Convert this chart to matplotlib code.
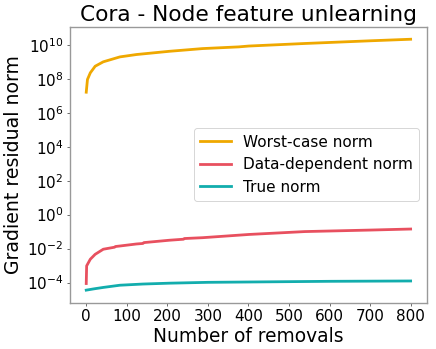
import matplotlib
matplotlib.use("Agg")
import matplotlib.pyplot as plt
import numpy as np

# Values (x = number of removals, y = log10 of norm)
worst_x = [0, 3, 10, 22, 42, 83, 124, 205, 287, 376, 401, 539, 702, 800]
worst_log = [7.21, 7.96, 8.35, 8.74, 9.0, 9.29, 9.43, 9.62, 9.78, 9.88, 9.93, 10.08, 10.24, 10.33]

data_x = [0, 1, 10, 22, 42, 70, 72, 83, 124, 140, 142, 205, 240, 242, 287, 401, 539, 702, 800]
data_log = [-4.06, -3.02, -2.63, -2.34, -2.04, -1.92, -1.88, -1.85, -1.73, -1.70, -1.65, -1.51, -1.45, -1.41, -1.36, -1.17, -1.0, -0.91, -0.85]

true_x = [0, 20, 42, 83, 140, 205, 300, 450, 600, 800]
true_log = [-4.45, -4.37, -4.29, -4.16, -4.09, -4.04, -3.99, -3.96, -3.93, -3.91]

labels = ["Worst-case norm", "Data-dependent norm", "True norm"]
colors = ["#EFA800", "#E8505F", "#12ADAD"]

fig = plt.figure(figsize=(4.36, 3.49), dpi=100)
ax = fig.add_axes([0.1606, 0.1327, 0.8184, 0.7908])

for xs, ls, lab, c in zip([worst_x, data_x, true_x], [worst_log, data_log, true_log], labels, colors):
    ax.plot(xs, 10 ** np.array(ls), color=c, lw=2, label=lab)

ax.set_yscale("log")
ax.set_yticks([1e-4, 1e-2, 1e0, 1e2, 1e4, 1e6, 1e8, 1e10])
ax.minorticks_off()
ax.set_xticks(range(0, 801, 100))
ax.tick_params(labelsize=11, pad=2.4, length=2.4, width=0.6, color="#555555")
ax.set_xlabel("Number of removals", fontsize=13.4, labelpad=1.6)
ax.set_ylabel("Gradient residual norm", fontsize=13.6, labelpad=2.7)
ax.set_title("Cora - Node feature unlearning", fontsize=15.6, pad=4)
for s in ax.spines.values():
    s.set_color("#999999")
    s.set_linewidth(1.0)
leg = ax.legend(loc="center right", fontsize=11)
leg.get_frame().set_linewidth(0.7)

fig.savefig("out.png", dpi=100)
